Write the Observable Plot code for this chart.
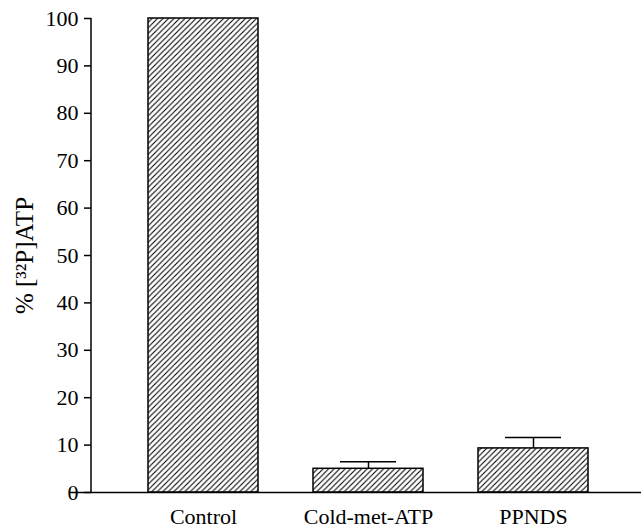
<!DOCTYPE html>
<html>
<head>
<meta charset="utf-8">
<script src="https://cdn.jsdelivr.net/npm/d3@7"></script>
<script src="https://cdn.jsdelivr.net/npm/@observablehq/plot@0.6"></script>
<style>
  body { margin: 0; background: #fff; }
  #chart svg { display: block; }
  #chart svg text { font-family: 'Liberation Serif', 'DejaVu Serif', serif; font-size: 22px; fill: #000; }
  #chart svg g[aria-label="y-axis label"] text { font-size: 25px; }
</style>
</head>
<body>
<div id="chart"></div>
<script>
const categories = ["Control", "Cold-met-ATP", "PPNDS"];
const values = [100, 5.0, 9.3];
const errors = [0, 1.5, 2.3];
const yTicks = [0, 10, 20, 30, 40, 50, 60, 70, 80, 90, 100];
const yLabel = "% [³²P]ATP";

const data = categories.map((c, i) => ({ cat: c, value: values[i], err: errors[i], top: values[i] + errors[i] }));
const withErr = data.filter(d => d.err > 0);

// y-axis line drawn with the plot's own y scale and dimensions
function yAxisLine(index, scales, values, dimensions) {
  const x = dimensions.marginLeft;
  const line = document.createElementNS("http://www.w3.org/2000/svg", "line");
  line.setAttribute("x1", x);
  line.setAttribute("x2", x);
  line.setAttribute("y1", scales.y(yTicks[0]));
  line.setAttribute("y2", scales.y(yTicks[yTicks.length - 1]));
  line.setAttribute("stroke", "#000");
  line.setAttribute("stroke-width", 1.5);
  return line;
}

const plot = Plot.plot({
  width: 641,
  height: 531,
  marginLeft: 91,
  marginRight: 0,
  marginTop: 18,
  marginBottom: 39,
  style: { fontFamily: "'Liberation Serif', 'DejaVu Serif', serif", fontSize: "22px", color: "#000", background: "#fff" },
  x: { domain: categories, paddingInner: 0.335, paddingOuter: 0.33, align: 0.52, label: null },
  y: { domain: [0, 100], label: null },
  marks: [
    Plot.barY(data, { x: "cat", y: "value", fill: "url(#hatch)", stroke: "#000", strokeWidth: 1.5 }),
    Plot.ruleX(withErr, { x: "cat", y1: "value", y2: "top", stroke: "#000", strokeWidth: 1.5 }),
    Plot.tickY(withErr, { x: "cat", y: "top", stroke: "#000", strokeWidth: 1.5, insetLeft: 27, insetRight: 27 }),
    Plot.ruleY([0], { stroke: "#000", strokeWidth: 1.5, insetLeft: -22 }),
    yAxisLine,
    Plot.axisY({ ticks: yTicks, tickSize: 7, tickPadding: 6, label: yLabel, labelArrow: "none", labelAnchor: "center", labelOffset: 76, strokeWidth: 1.5, fontSize: 22 }),
    Plot.axisX({ tickSize: 0, tickPadding: 16, label: null, fontSize: 22 })
  ]
});

const svg = d3.select(plot);
const defs = svg.insert("defs", ":first-child");
const pat = defs.append("pattern")
  .attr("id", "hatch")
  .attr("patternUnits", "userSpaceOnUse")
  .attr("width", 5.5)
  .attr("height", 5.5);
pat.append("rect").attr("width", 5.5).attr("height", 5.5).attr("fill", "#fff");
pat.append("path")
  .attr("d", "M0,5.5 L5.5,0 M-1,1 L1,-1 M4.5,6.5 L6.5,4.5")
  .attr("stroke", "#000")
  .attr("stroke-width", 1.1);

document.getElementById("chart").appendChild(plot);
</script>
</body>
</html>
